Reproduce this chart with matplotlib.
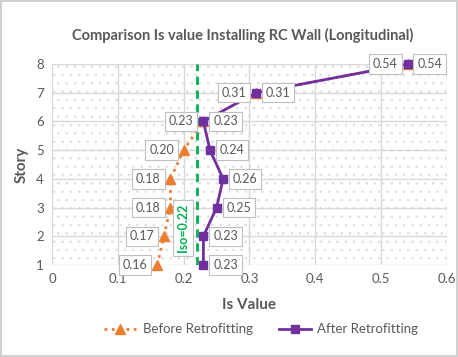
import matplotlib
matplotlib.use('Agg')
import matplotlib.pyplot as plt
from matplotlib.patches import Rectangle

plt.rcParams['font.family'] = ['Lato', 'DejaVu Sans']
plt.rcParams['hatch.linewidth'] = 0.6

stories = [1, 2, 3, 4, 5, 6, 7, 8]
before = [0.16, 0.17, 0.18, 0.18, 0.20, 0.23, 0.31, 0.54]
after = [0.23, 0.23, 0.25, 0.26, 0.24, 0.23, 0.31, 0.54]
iso = 0.22

gray_txt = '#595959'
orange = '#ED7D31'
purple = '#7030A0'
green = '#00B050'

fig = plt.figure(figsize=(4.58, 3.57), dpi=100)
fig.patch.set_edgecolor('#D0D0D0')
fig.patch.set_linewidth(1.5)
ax = fig.add_axes([0.1135, 0.2577, 0.8625, 0.563])

# dotted background of the plot area
bg = Rectangle((0, 0), 1, 1, transform=ax.transAxes, facecolor='white',
               edgecolor='#D6E0EC', hatch='..', linewidth=0, zorder=0)
ax.add_patch(bg)

ax.set_xlim(0, 0.6)
ax.set_ylim(1, 8)
ax.set_xticks([0, 0.1, 0.2, 0.3, 0.4, 0.5, 0.6])
ax.set_xticklabels(['0', '0.1', '0.2', '0.3', '0.4', '0.5', '0.6'])
ax.set_yticks(stories)
ax.grid(True, color='#D9D9D9', linewidth=1, zorder=1)
ax.set_axisbelow(True)
for s in ax.spines.values():
    s.set_visible(False)
ax.tick_params(length=0, labelsize=9.5, colors=gray_txt, pad=6)

ax.axvline(iso, color=green, linestyle=(0, (3, 2)), linewidth=2, zorder=2)
ax.text(0.199, 2.3, 'Iso=0.22', rotation=90, ha='center', va='center',
        color=green, fontsize=9, fontweight='bold', zorder=5,
        bbox=dict(boxstyle='square,pad=0.3', facecolor='white', edgecolor='#BFBFBF', linewidth=0.8))

ax.plot(before, stories, linestyle=':', color=orange, linewidth=2, marker='^',
        markersize=7, label='Before Retrofitting', zorder=3, clip_on=False)
ax.plot(after, stories, linestyle='-', color=purple, linewidth=2, marker='s',
        markersize=6, label='After Retrofitting', zorder=4, clip_on=False)

box = dict(boxstyle='square,pad=0.3', facecolor='white', edgecolor='#BFBFBF', linewidth=0.8)
for x, y in zip(before, stories):
    ax.annotate(f'{x:.2f}', (x, y), xytext=(-7, 0), textcoords='offset points',
                ha='right', va='center', fontsize=9, color=gray_txt, bbox=box, zorder=6)
for x, y in zip(after, stories):
    ax.annotate(f'{x:.2f}', (x, y), xytext=(7, 0), textcoords='offset points',
                ha='left', va='center', fontsize=9, color=gray_txt, bbox=box, zorder=6)

fig.text(0.53, 0.902, 'Comparison Is value Installing RC Wall (Longitudinal)',
         ha='center', va='center', fontsize=10.5, fontweight='bold', color=gray_txt)
ax.set_xlabel('Is Value', fontsize=11, fontweight='bold', color=gray_txt, labelpad=9)
ax.set_ylabel('Story', fontsize=11, fontweight='bold', color=gray_txt, labelpad=5)

ax.legend(loc='center', bbox_to_anchor=(0.53, -0.32), ncol=2, frameon=False,
          fontsize=9.5, labelcolor=gray_txt, handlelength=2.4, handletextpad=0.5,
          columnspacing=2.0)

fig.savefig('out.png', dpi=100)
